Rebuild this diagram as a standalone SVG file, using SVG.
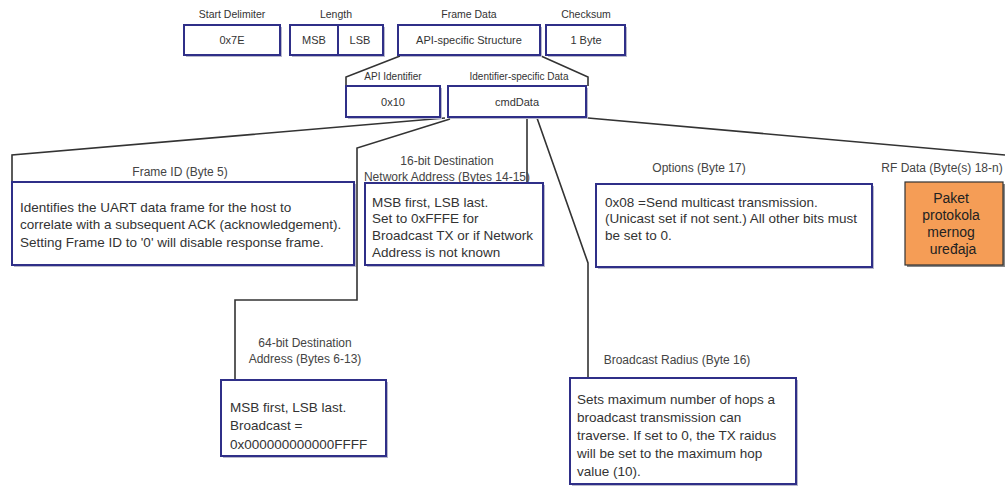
<svg xmlns="http://www.w3.org/2000/svg" width="1005" height="488" viewBox="0 0 1005 488">
<style>
.box{fill:#fff;stroke:#2f2f88;stroke-width:2}
.sh{fill:#b8b8cc}
.lbl{font-family:"Liberation Sans",Arial,sans-serif;font-size:10.5px;fill:#333;text-anchor:middle}
.lbl1{font-family:"Liberation Sans",Arial,sans-serif;font-size:10px;fill:#333;text-anchor:middle}
.lbl2{font-family:"Liberation Sans",Arial,sans-serif;font-size:12px;fill:#444;text-anchor:middle}
.bt{font-family:"Liberation Sans",Arial,sans-serif;font-size:11px;fill:#333;text-anchor:middle}
.body{font-family:"Liberation Sans",Arial,sans-serif;font-size:13.5px;fill:#333}
.conn{fill:none;stroke:#333;stroke-width:1.6}
</style>
<rect width="1005" height="488" fill="#fff"/>
<g id="connectors">
<path class="conn" d="M400,56 L346,77 L346,86"/>
<path class="conn" d="M541,56 L588,77 L588,86"/>
<path class="conn" d="M445,118 L12,155 L12,182"/>
<path class="conn" d="M450,119 L357,148 L357,300 L235,300 L235,380"/>
<path class="conn" d="M527,118 L527,182"/>
<path class="conn" d="M537,118 L588,263 L588,378"/>
<path class="conn" d="M588,118 L1005,155"/>
</g>
<g id="start-delimiter">
<text class="lbl" x="232" y="18">Start Delimiter</text>
<rect class="sh" x="186" y="27" width="96" height="30"/>
<rect class="box" x="184" y="25" width="96" height="30"/>
<text class="bt" x="232" y="44">0x7E</text>
</g>
<g id="length">
<text class="lbl" x="336" y="18">Length</text>
<rect class="sh" x="292" y="27" width="93" height="30"/>
<rect class="box" x="290" y="25" width="93" height="30"/>
<line x1="338" y1="25" x2="338" y2="55" stroke="#2f2f88" stroke-width="2"/>
<text class="bt" x="314" y="44">MSB</text>
<text class="bt" x="360" y="44">LSB</text>
</g>
<g id="frame-data">
<text class="lbl" x="469" y="18">Frame Data</text>
<rect class="sh" x="400" y="27" width="142" height="30"/>
<rect class="box" x="398" y="25" width="142" height="30"/>
<text class="bt" x="469" y="44">API-specific Structure</text>
</g>
<g id="checksum">
<text class="lbl" x="586" y="18">Checksum</text>
<rect class="sh" x="548" y="27" width="79" height="30"/>
<rect class="box" x="546" y="25" width="79" height="30"/>
<text class="bt" x="586" y="44">1 Byte</text>
</g>
<g id="api-identifier">
<text class="lbl1" x="393" y="80">API Identifier</text>
<rect class="sh" x="348" y="88" width="94" height="31"/>
<rect class="box" x="346" y="86" width="94" height="31"/>
<text class="bt" x="393" y="106">0x10</text>
</g>
<g id="identifier-data">
<text class="lbl1" x="519" y="80">Identifier-specific Data</text>
<rect class="sh" x="450" y="88" width="138" height="31"/>
<rect class="box" x="448" y="86" width="138" height="31"/>
<text class="bt" x="517" y="106">cmdData</text>
</g>
<g id="frame-id">
<text class="lbl2" x="180" y="176">Frame ID (Byte 5)</text>
<rect class="sh" x="14" y="184" width="342" height="83"/>
<rect class="box" x="12" y="182" width="342" height="83"/>
<text class="body" x="20" y="212">Identifies the UART data frame for the host to</text>
<text class="body" x="20" y="229">correlate with a subsequent ACK (acknowledgement).</text>
<text class="body" x="20" y="247">Setting Frame ID to '0' will disable response frame.</text>
</g>
<g id="dest16">
<text class="lbl2" x="447" y="165">16-bit Destination</text>
<text class="lbl2" x="447" y="181">Network Address (Bytes 14-15)</text>
<rect class="sh" x="367" y="185" width="178" height="82"/>
<rect class="box" x="365" y="183" width="178" height="82"/>
<text class="body" x="372" y="207">MSB first, LSB last.</text>
<text class="body" x="372" y="223">Set to 0xFFFE for</text>
<text class="body" x="372" y="240">Broadcast TX or if Network</text>
<text class="body" x="372" y="257">Address is not known</text>
</g>
<g id="options">
<text class="lbl2" x="699" y="172">Options (Byte 17)</text>
<rect class="sh" x="598" y="186" width="276" height="83"/>
<rect class="box" x="596" y="184" width="276" height="83"/>
<text class="body" x="605" y="207">0x08 =Send multicast transmission.</text>
<text class="body" x="605" y="223">(Unicast set if not sent.) All other bits must</text>
<text class="body" x="605" y="240">be set to 0.</text>
</g>
<g id="rf-data">
<text class="lbl2" x="942" y="172">RF Data (Byte(s) 18-n)</text>
<rect x="907" y="184" width="98" height="83" fill="#888"/>
<rect x="905" y="182" width="98" height="83" fill="#f59d56" stroke="#333" stroke-width="1.2"/>
<text font-family="Liberation Sans,Arial,sans-serif" font-size="14" fill="#222" text-anchor="middle">
<tspan x="953" y="203">Paket</tspan>
<tspan x="953" y="220">protokola</tspan>
<tspan x="953" y="237">mernog</tspan>
<tspan x="953" y="254">uređaja</tspan>
</text>
</g>
<g id="dest64">
<text class="lbl2" x="305" y="347">64-bit Destination</text>
<text class="lbl2" x="305" y="363">Address (Bytes 6-13)</text>
<rect class="sh" x="223" y="382" width="165" height="76"/>
<rect class="box" x="221" y="380" width="165" height="76"/>
<text class="body" x="230" y="412">MSB first, LSB last.</text>
<text class="body" x="230" y="430">Broadcast =</text>
<text class="body" x="230" y="449">0x000000000000FFFF</text>
</g>
<g id="broadcast-radius">
<text class="lbl2" x="677" y="364">Broadcast Radius (Byte 16)</text>
<rect class="sh" x="572" y="380" width="226" height="106"/>
<rect class="box" x="570" y="378" width="226" height="106"/>
<text class="body" x="577" y="404">Sets maximum number of hops a</text>
<text class="body" x="577" y="422">broadcast transmission can</text>
<text class="body" x="577" y="440">traverse. If set to 0, the TX raidus</text>
<text class="body" x="577" y="458">will be set to the maximum hop</text>
<text class="body" x="577" y="476">value (10).</text>
</g>
</svg>
